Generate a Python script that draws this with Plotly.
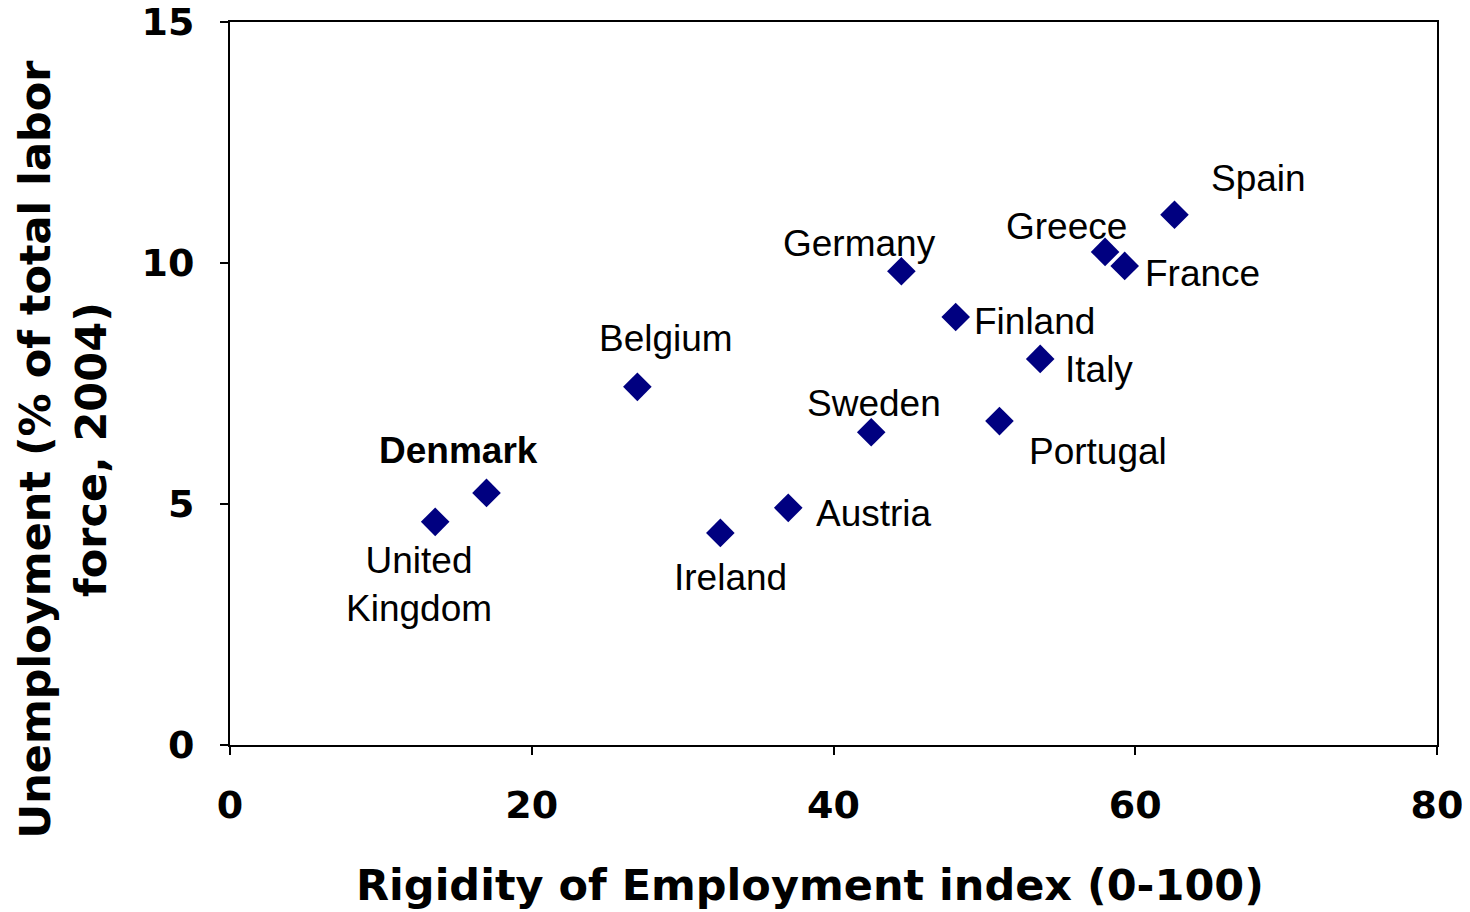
import plotly.graph_objects as go

countries = ["United Kingdom", "Denmark", "Belgium", "Ireland", "Austria", "Sweden",
             "Germany", "Finland", "Portugal", "Italy", "Greece", "France", "Spain"]
rigidity = [13.6, 17.0, 27.0, 32.5, 37.0, 42.5, 44.5, 48.1, 51.0, 53.7, 58.0, 59.3, 62.6]
unemployment = [4.63, 5.23, 7.43, 4.40, 4.92, 6.49, 9.83, 8.88, 6.72, 8.01, 10.23, 9.94, 11.0]
label_text = ["United<br>Kingdom", "<b>Denmark</b>", "Belgium", "Ireland", "Austria", "Sweden",
              "Germany", "Finland", "Portugal", "Italy", "Greece", "France", "Spain"]
x_ticks = [0, 20, 40, 60, 80]
y_ticks = [0, 5, 10, 15]

# label pixel offsets (layout only)
offsets = {
    "United Kingdom": (-16, -63), "Denmark": (-28, 42), "Belgium": (29, 48),
    "Ireland": (10, -45), "Austria": (86, -6), "Sweden": (3, 29),
    "Germany": (-42, 28), "Finland": (79, -5), "Portugal": (99, -30),
    "Italy": (59, -11), "Greece": (-39, 25), "France": (78, -8), "Spain": (84, 36),
}

fig = go.Figure()
fig.add_trace(go.Scatter(
    x=rigidity, y=unemployment, mode="markers",
    marker=dict(symbol="diamond", size=22, color="#000080", line=dict(width=0)),
    hoverinfo="text", text=countries, showlegend=False,
))

annotations = []
for c, xv, yv, t in zip(countries, rigidity, unemployment, label_text):
    dx, dy = offsets[c]
    annotations.append(dict(
        x=xv, y=yv, xref="x", yref="y", text=t, showarrow=False,
        xshift=dx, yshift=dy, xanchor="center", yanchor="middle",
        font=dict(family="Liberation Sans, Arial, sans-serif", size=37, color="black"),
    ))

annotations.append(dict(
    x=0.4805, y=-0.194, xref="paper", yref="paper", showarrow=False,
    text="<b>Rigidity of Employment index (0-100)</b>",
    xanchor="center", yanchor="middle",
    font=dict(family="DejaVu Sans, Verdana, sans-serif", size=43, color="black"),
))
annotations.append(dict(
    x=-0.138, y=0.409, xref="paper", yref="paper", showarrow=False,
    text="<b>Unemployment (% of total labor<br>force, 2004)</b>", textangle=-90,
    xanchor="center", yanchor="middle",
    font=dict(family="DejaVu Sans, Verdana, sans-serif", size=43, color="black"),
))

tick_font = dict(family="DejaVu Sans, Verdana, sans-serif", size=38,
                 color="black", weight="bold")

fig.update_layout(
    width=1462, height=904,
    margin=dict(l=222, r=33, t=14, b=167, autoexpand=False),
    paper_bgcolor="white", plot_bgcolor="white",
    annotations=annotations,
    xaxis=dict(range=[0, 80], tickvals=x_ticks, showgrid=False, zeroline=False,
               showline=True, linecolor="black", linewidth=2, mirror=True,
               ticks="outside", ticklen=8, tickwidth=2, tickcolor="black",
               ticklabelstandoff=17, automargin=False, tickfont=tick_font,
               ticklabeloverflow="allow"),
    yaxis=dict(range=[0, 15], tickvals=y_ticks, showgrid=False, zeroline=False,
               showline=True, linecolor="black", linewidth=2, mirror=True,
               ticks="outside", ticklen=8, tickwidth=2, tickcolor="black",
               ticklabelstandoff=18, automargin=False, tickfont=tick_font,
               ticklabeloverflow="allow"),
)

fig.write_html("out.html")
